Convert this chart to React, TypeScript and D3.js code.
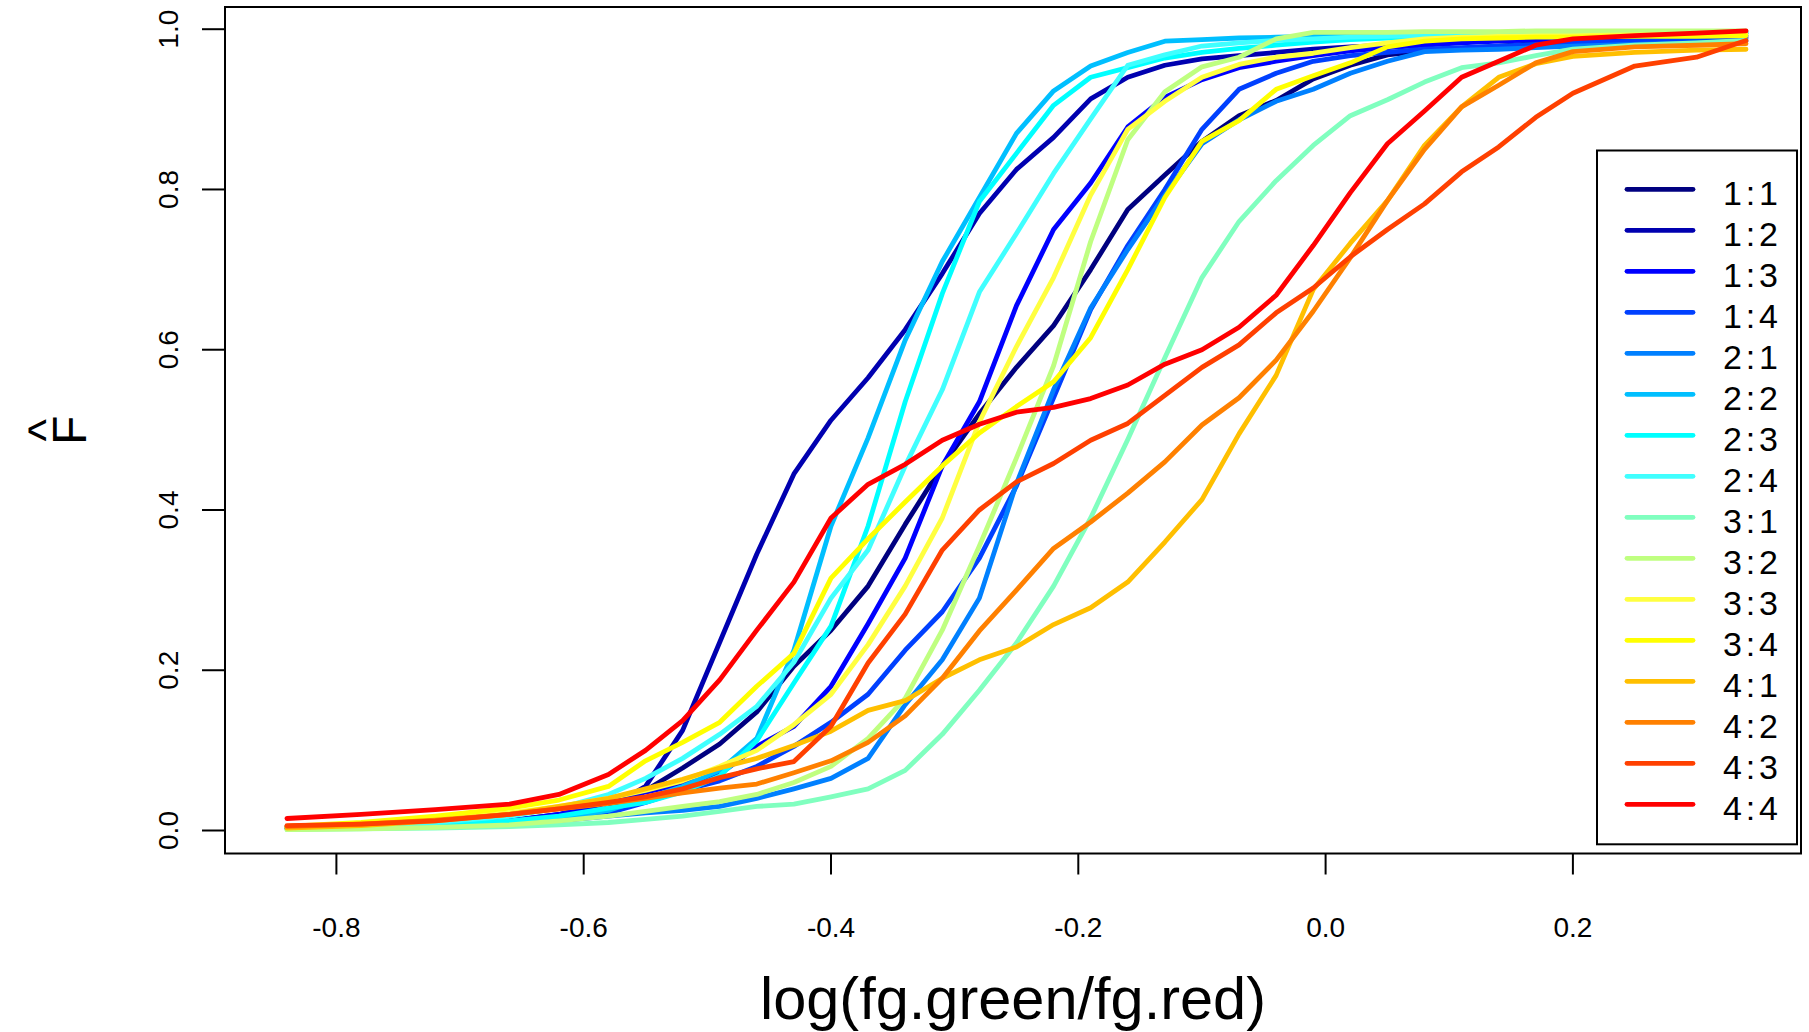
import * as d3 from "d3";

// evaluation grid of log(fg.green/fg.red)
const xGrid = [-0.84, -0.78, -0.72, -0.66, -0.62, -0.58, -0.55, -0.52, -0.49, -0.46, -0.43, -0.40, -0.37, -0.34, -0.31, -0.28, -0.25, -0.22, -0.19, -0.16, -0.13, -0.10, -0.07, -0.04, -0.01, 0.02, 0.05, 0.08, 0.11, 0.14, 0.17, 0.20, 0.25, 0.30, 0.34];

const groups = ["1:1", "1:2", "1:3", "1:4", "2:1", "2:2", "2:3", "2:4", "3:1", "3:2", "3:3", "3:4", "4:1", "4:2", "4:3", "4:4"];
const colors = ["#000080", "#0000B0", "#0000FF", "#0040FF", "#0080FF", "#00BFFF", "#00FFFF", "#40FFFF", "#80FFBF", "#BFFF80", "#FFFF40", "#FFFF00", "#FFBF00", "#FF8000", "#FF4000", "#FF0000"];

// ECDF values, one array per print-tip group
const f11 = [0.005, 0.006, 0.008, 0.012, 0.02, 0.035, 0.05, 0.078, 0.108, 0.148, 0.205, 0.25, 0.305, 0.382, 0.455, 0.52, 0.578, 0.63, 0.70, 0.775, 0.818, 0.86, 0.892, 0.911, 0.938, 0.955, 0.968, 0.973, 0.976, 0.979, 0.982, 0.984, 0.986, 0.988, 0.99];
const f12 = [0.004, 0.005, 0.007, 0.01, 0.015, 0.028, 0.055, 0.125, 0.235, 0.345, 0.445, 0.512, 0.565, 0.625, 0.695, 0.77, 0.825, 0.865, 0.913, 0.94, 0.955, 0.963, 0.967, 0.971, 0.975, 0.978, 0.98, 0.982, 0.984, 0.986, 0.988, 0.99, 0.992, 0.994, 0.995];
const f13 = [0.003, 0.004, 0.006, 0.012, 0.02, 0.035, 0.048, 0.058, 0.07, 0.105, 0.13, 0.18, 0.258, 0.34, 0.455, 0.535, 0.655, 0.75, 0.808, 0.878, 0.915, 0.937, 0.952, 0.96, 0.967, 0.973, 0.977, 0.98, 0.983, 0.985, 0.987, 0.988, 0.99, 0.991, 0.992];
const f14 = [0.003, 0.004, 0.006, 0.01, 0.014, 0.022, 0.035, 0.05, 0.062, 0.08, 0.105, 0.135, 0.17, 0.225, 0.273, 0.34, 0.43, 0.54, 0.65, 0.73, 0.80, 0.875, 0.925, 0.945, 0.96, 0.967, 0.971, 0.975, 0.977, 0.979, 0.981, 0.983, 0.985, 0.987, 0.988];
const f21 = [0.002, 0.003, 0.005, 0.008, 0.012, 0.018, 0.022, 0.025, 0.03, 0.04, 0.052, 0.065, 0.09, 0.157, 0.213, 0.29, 0.433, 0.55, 0.652, 0.725, 0.793, 0.857, 0.887, 0.91, 0.925, 0.945, 0.96, 0.972, 0.974, 0.975, 0.977, 0.979, 0.981, 0.983, 0.985];
const f22 = [0.003, 0.004, 0.006, 0.01, 0.015, 0.025, 0.04, 0.055, 0.075, 0.115, 0.225, 0.38, 0.49, 0.612, 0.71, 0.79, 0.87, 0.923, 0.954, 0.971, 0.985, 0.987, 0.989, 0.99, 0.991, 0.992, 0.993, 0.994, 0.995, 0.995, 0.996, 0.996, 0.997, 0.997, 0.997];
const f23 = [0.004, 0.005, 0.007, 0.012, 0.018, 0.028, 0.035, 0.048, 0.068, 0.112, 0.184, 0.255, 0.38, 0.535, 0.67, 0.785, 0.845, 0.905, 0.94, 0.952, 0.964, 0.971, 0.976, 0.98, 0.984, 0.987, 0.989, 0.99, 0.991, 0.992, 0.993, 0.994, 0.994, 0.995, 0.995];
const f24 = [0.004, 0.006, 0.01, 0.018, 0.028, 0.045, 0.065, 0.09, 0.12, 0.155, 0.21, 0.29, 0.35, 0.455, 0.55, 0.672, 0.745, 0.82, 0.888, 0.955, 0.968, 0.979, 0.983, 0.986, 0.988, 0.99, 0.991, 0.992, 0.993, 0.994, 0.994, 0.995, 0.995, 0.996, 0.996];
const f31 = [0.001, 0.002, 0.003, 0.005, 0.007, 0.01, 0.014, 0.018, 0.024, 0.03, 0.033, 0.042, 0.052, 0.075, 0.12, 0.175, 0.234, 0.305, 0.39, 0.488, 0.59, 0.69, 0.76, 0.811, 0.855, 0.892, 0.912, 0.934, 0.952, 0.958, 0.967, 0.975, 0.98, 0.983, 0.986];
const f32 = [0.001, 0.002, 0.004, 0.007, 0.012, 0.018, 0.024, 0.03, 0.036, 0.045, 0.06, 0.08, 0.115, 0.165, 0.25, 0.355, 0.465, 0.58, 0.735, 0.862, 0.922, 0.953, 0.965, 0.988, 0.996, 0.996, 0.996, 0.997, 0.997, 0.997, 0.998, 0.998, 0.998, 0.998, 0.998];
const f33 = [0.004, 0.008, 0.015, 0.022, 0.03, 0.04, 0.05, 0.062, 0.08, 0.1, 0.132, 0.17, 0.232, 0.305, 0.39, 0.51, 0.604, 0.69, 0.793, 0.875, 0.91, 0.94, 0.956, 0.965, 0.97, 0.977, 0.983, 0.988, 0.99, 0.991, 0.992, 0.992, 0.993, 0.993, 0.994];
const f34 = [0.005, 0.01, 0.018, 0.028, 0.038, 0.055, 0.087, 0.11, 0.135, 0.18, 0.221, 0.315, 0.364, 0.41, 0.455, 0.496, 0.529, 0.56, 0.615, 0.70, 0.79, 0.86, 0.886, 0.925, 0.942, 0.958, 0.978, 0.985, 0.988, 0.989, 0.99, 0.99, 0.991, 0.991, 0.992];
const f41 = [0.003, 0.006, 0.012, 0.02, 0.03, 0.04, 0.052, 0.064, 0.078, 0.09, 0.106, 0.124, 0.15, 0.162, 0.19, 0.213, 0.229, 0.257, 0.278, 0.31, 0.36, 0.413, 0.495, 0.568, 0.675, 0.733, 0.786, 0.855, 0.903, 0.94, 0.957, 0.966, 0.971, 0.974, 0.975];
const f42 = [0.005, 0.008, 0.013, 0.02, 0.027, 0.034, 0.04, 0.047, 0.053, 0.058, 0.072, 0.087, 0.11, 0.143, 0.19, 0.249, 0.30, 0.352, 0.385, 0.421, 0.46, 0.506, 0.54, 0.587, 0.648, 0.715, 0.786, 0.85, 0.903, 0.93, 0.958, 0.972, 0.978, 0.98, 0.982];
const f43 = [0.006, 0.008, 0.012, 0.02, 0.027, 0.035, 0.042, 0.052, 0.066, 0.077, 0.086, 0.13, 0.209, 0.27, 0.35, 0.40, 0.435, 0.458, 0.487, 0.508, 0.543, 0.578, 0.606, 0.646, 0.677, 0.716, 0.75, 0.782, 0.822, 0.853, 0.89, 0.92, 0.954, 0.965, 0.986];
const f44 = [0.015, 0.02, 0.026, 0.033, 0.045, 0.07, 0.1, 0.137, 0.188, 0.25, 0.31, 0.39, 0.432, 0.457, 0.487, 0.507, 0.522, 0.528, 0.539, 0.556, 0.582, 0.60, 0.628, 0.668, 0.73, 0.796, 0.857, 0.898, 0.94, 0.96, 0.98, 0.988, 0.992, 0.995, 0.998];

const curves = [f11, f12, f13, f14, f21, f22, f23, f24, f31, f32, f33, f34, f41, f42, f43, f44];

const xTicks = [-0.8, -0.6, -0.4, -0.2, 0.0, 0.2];
const yTicks = [0, 0.2, 0.4, 0.6, 0.8, 1.0];

const FONT = "'Liberation Sans', Arial, Helvetica, sans-serif";

export default function App() {
  const width = 1809, height = 1032;
  // plot frame (R box) in pixels
  const frame = { left: 225, right: 1801, top: 7, bottom: 853.5 };

  const x = d3.scaleLinear().domain([-0.8, 0.2]).range([336.4, 1572.9]);
  const y = d3.scaleLinear().domain([0, 1]).range([830.5, 29.2]);

  const line = d3
    .line<number>()
    .x((_, i) => x(xGrid[i]))
    .y((d) => y(d));

  // legend layout
  const legend = { left: 1597, top: 150.5, right: 1797, bottom: 844.3, firstY: 189.3, step: 41 };

  return (
    <svg
      width={width}
      height={height}
      style={{ position: "absolute", left: 0, top: 0, background: "#fff" }}
      fontFamily={FONT}
    >
      <rect x={0} y={0} width={width} height={height} fill="#fff" />

      {/* ecdf curves */}
      <g fill="none" strokeWidth={4.8} strokeLinejoin="round" strokeLinecap="round">
        {curves.map((c, i) => (
          <path key={groups[i]} d={line(c) || ""} stroke={colors[i]} />
        ))}
      </g>

      {/* frame */}
      <rect
        x={frame.left}
        y={frame.top}
        width={frame.right - frame.left}
        height={frame.bottom - frame.top}
        fill="none"
        stroke="#000"
        strokeWidth={2}
      />

      {/* x axis */}
      <g>
        {xTicks.map((t) => (
          <g key={t}>
            <line x1={x(t)} x2={x(t)} y1={frame.bottom} y2={frame.bottom + 21} stroke="#000" strokeWidth={2} />
            <text x={x(t)} y={936.5} textAnchor="middle" fontSize={28}>
              {t.toFixed(1)}
            </text>
          </g>
        ))}
      </g>

      {/* y axis */}
      <g>
        {yTicks.map((t) => (
          <g key={t}>
            <line x1={frame.left - 23} x2={frame.left} y1={y(t)} y2={y(t)} stroke="#000" strokeWidth={2} />
            <text transform={`translate(178,${y(t)}) rotate(-90)`} textAnchor="middle" fontSize={28}>
              {t.toFixed(1)}
            </text>
          </g>
        ))}
      </g>

      {/* axis titles */}
      <text x={(frame.left + frame.right) / 2} y={1019} textAnchor="middle" fontSize={59.5}>
        log(fg.green/fg.red)
      </text>
      <g transform={`translate(0,${(frame.top + frame.bottom) / 2})`}>
        <text transform="translate(86,0) rotate(-90)" textAnchor="middle" fontSize={48}>
          F
        </text>
        <text transform="translate(62,0) rotate(-90)" textAnchor="middle" fontSize={48}>
          ^
        </text>
      </g>

      {/* legend */}
      <rect
        x={legend.left}
        y={legend.top}
        width={legend.right - legend.left}
        height={legend.bottom - legend.top}
        fill="#fff"
        stroke="#000"
        strokeWidth={2}
      />
      {groups.map((g, i) => {
        const ly = legend.firstY + i * legend.step;
        return (
          <g key={g}>
            <line x1={1627} x2={1693} y1={ly} y2={ly} stroke={colors[i]} strokeWidth={4.8} strokeLinecap="round" />
            <text x={1723} y={ly + 15.7} fontSize={34} textLength={55} lengthAdjust="spacing">
              {g}
            </text>
          </g>
        );
      })}
    </svg>
  );
}
